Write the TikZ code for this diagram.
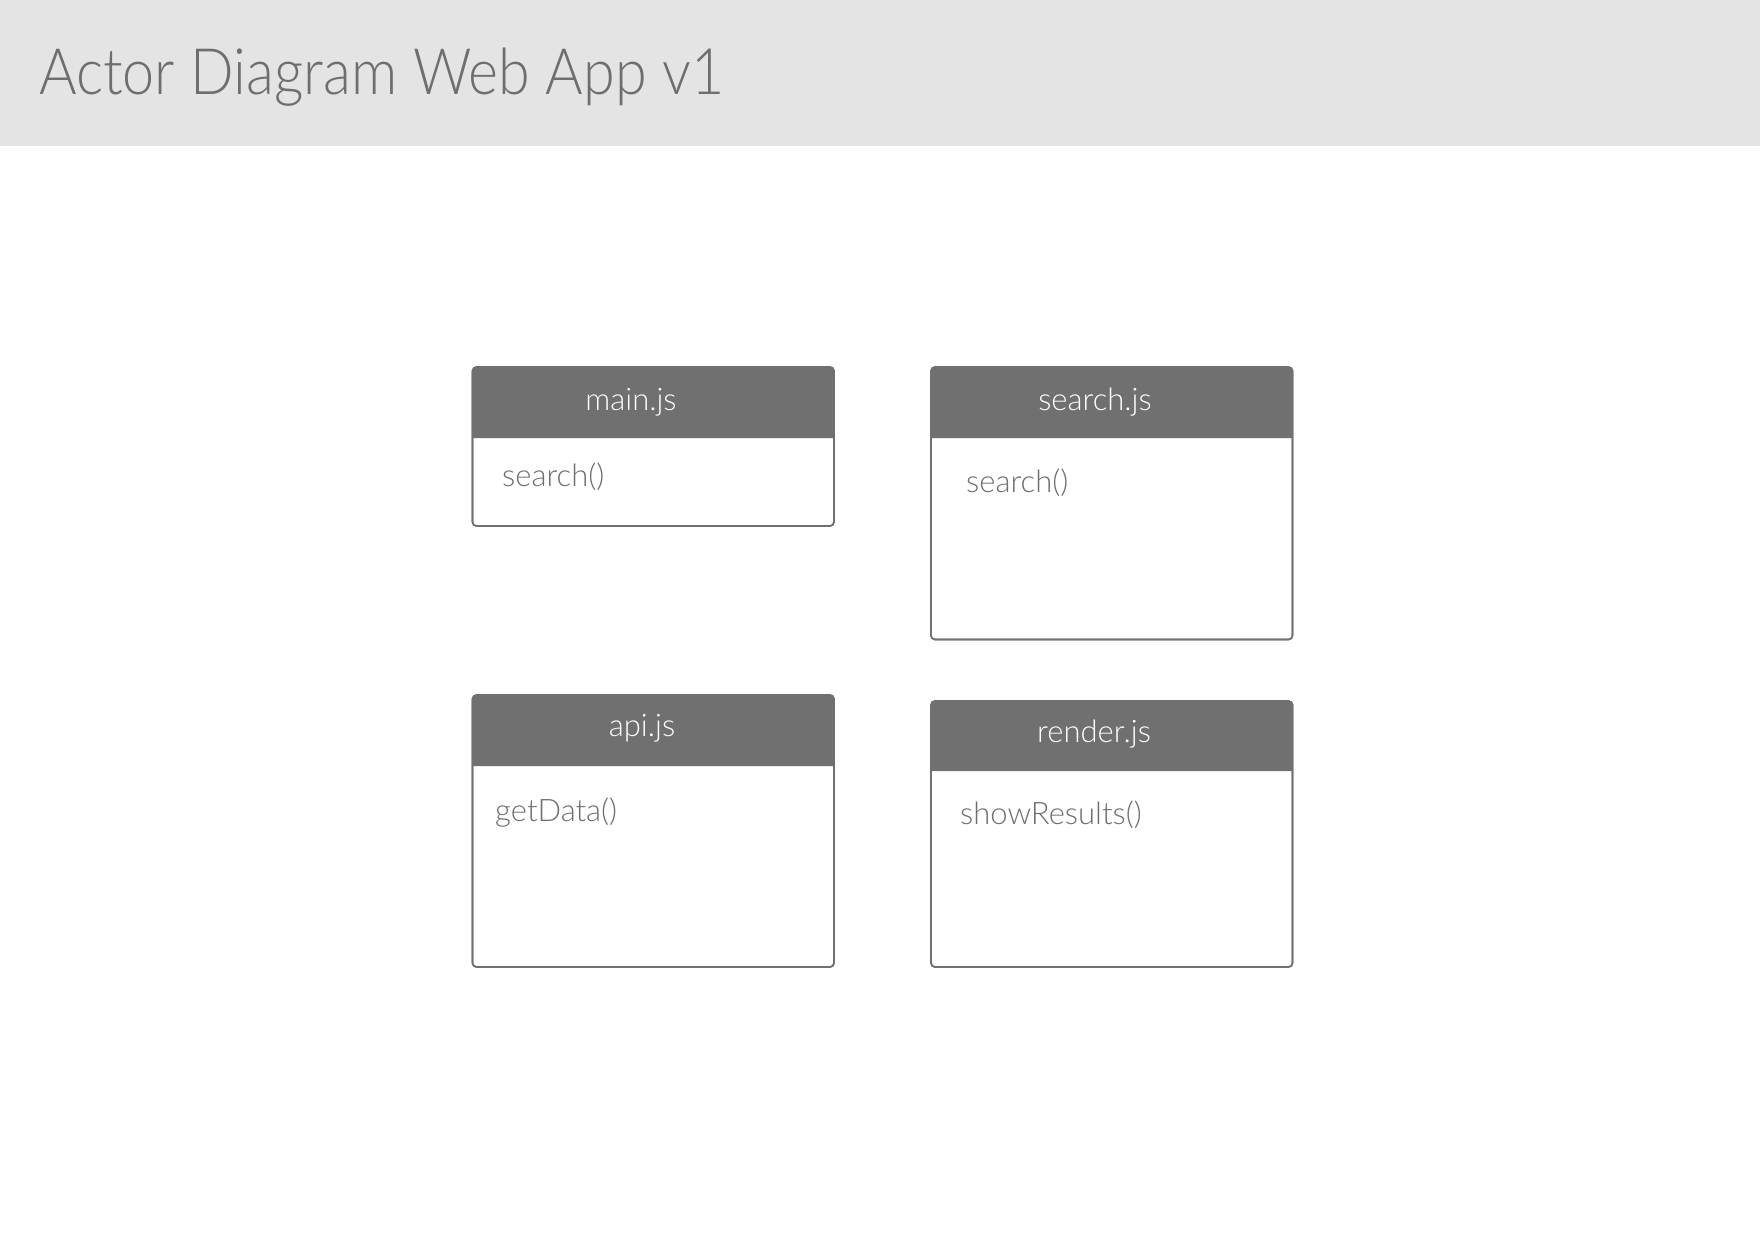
\documentclass[tikz,border=0pt]{standalone}
\usepackage{fontspec}
\usepackage{graphicx}
\setmainfont{Lato Light}
\definecolor{bandgray}{HTML}{E4E4E4}
\definecolor{inkgray}{HTML}{707070}
\definecolor{textgray}{HTML}{6E6E6E}

\tikzset{
  classbody/.style={draw=inkgray, line width=1.6pt, fill=white, rounded corners=4pt,
    rectangle, anchor=north west, inner sep=0pt, outer sep=0pt},
  headfill/.style={fill=inkgray},
  headtext/.style={anchor=base, inner sep=0pt, text=white, font=\fontsize{31}{36}\selectfont},
  membertext/.style={anchor=base west, inner sep=0pt, text=textgray, font=\fontsize{31}{36}\selectfont},
  titletext/.style={anchor=base west, inner sep=0pt, text=textgray},
}

% one class box: name, left, top, width, height, header height
\newcommand{\classbox}[6]{%
  \node[classbody, minimum width=#4pt, minimum height=#5pt] (#1) at (#2,#3) {};
  \fill[headfill] ($(#1.north west)+(0,#6)$) [rounded corners=4pt] -- (#1.north west)
    -- (#1.north east) [sharp corners] -- ($(#1.north east)+(0,#6)$) -- cycle;
  \draw[inkgray, line width=1.6pt, rounded corners=4pt] (#1.south west) rectangle (#1.north east);
}

\usetikzlibrary{calc}

\begin{document}
\begin{tikzpicture}[x=1pt,y=-1pt]
  \useasboundingbox (0,0) rectangle (1760,1242);
  \fill[white] (0,0) rectangle (1760,1242);

  % title band
  \fill[bandgray] (0,0) rectangle (1760,146);
  \node[titletext] (title) at (39,94)
    {\resizebox{685pt}{\height}{\fontsize{64}{70}\selectfont Actor Diagram Web App v1}};

  % classes
  \classbox{main}{472.5}{367}{361.5}{159}{71}
  \classbox{search}{931}{367}{361.5}{272.5}{71}
  \classbox{api}{472.5}{695}{361.5}{272}{71}
  \classbox{render}{931}{701}{361.5}{266}{70}

  \node[headtext] (mainhead) at (631,410) {main.js};
  \node[membertext] (mainm) at (502,486) {search()};

  \node[headtext] (searchhead) at (1095,410) {search.js};
  \node[membertext] (searchm) at (966,492) {search()};

  \node[headtext] (apihead) at (642,736) {api.js};
  \node[membertext] (apim) at (495,821) {getData()};

  \node[headtext] (renderhead) at (1094,742) {render.js};
  \node[membertext] (renderm) at (960,824) {showResults()};
\end{tikzpicture}
\end{document}
